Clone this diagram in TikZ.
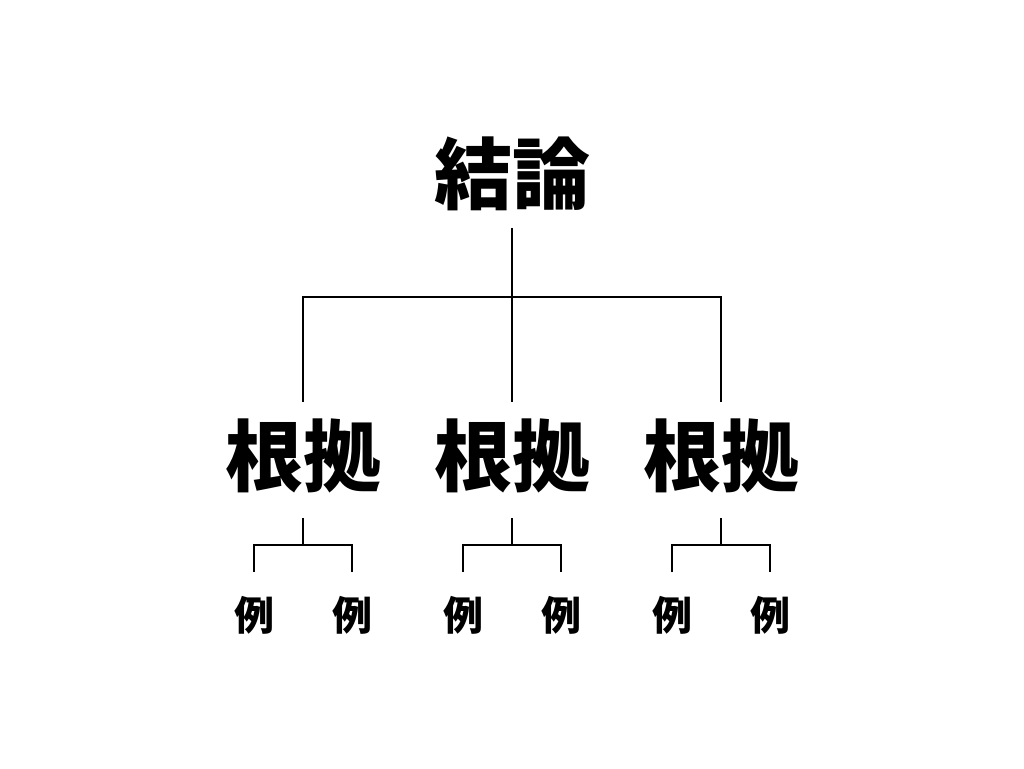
\documentclass[tikz,border=0pt]{standalone}
\usepackage{fontspec}
\newfontfamily\cjk{Noto Sans CJK JP}
\begin{document}
\begin{tikzpicture}[x=1pt,y=-1pt,
  big/.style={font=\cjk\bfseries\fontsize{78}{80}\selectfont, inner sep=0pt, anchor=center},
  small/.style={font=\cjk\bfseries\fontsize{40}{42}\selectfont, inner sep=0pt, anchor=center},
  wire/.style={line width=2pt}]
\useasboundingbox (0,0) rectangle (1024,768);
\node[big] (c) at (512,174) {結論};
\node[big] (r1) at (303,456) {根拠};
\node[big] (r2) at (512,456) {根拠};
\node[big] (r3) at (721,456) {根拠};
\coordinate (ct) at (512,228);
\coordinate (hb) at (512,297);
\foreach \i in {1,2,3}{\coordinate (u\i) at ([yshift=17pt]r\i.north);}
\draw[wire] (ct) -- (u2);
\draw[wire] (u1) |- (hb) -| (u3);
\foreach \i/\x in {1/303,2/512,3/721}{
  \node[small] (e\i a) at (\x-49,615) {例};
  \node[small] (e\i b) at (\x+49,615) {例};
  \coordinate (t\i) at (\x,518);
  \coordinate (m\i) at (\x,545);
  \coordinate (la\i) at (\x-49,572);
  \coordinate (lb\i) at (\x+49,572);
  \draw[wire] (t\i) -- (m\i);
  \draw[wire] (la\i) |- (m\i) -| (lb\i);
}
\end{tikzpicture}
\end{document}
